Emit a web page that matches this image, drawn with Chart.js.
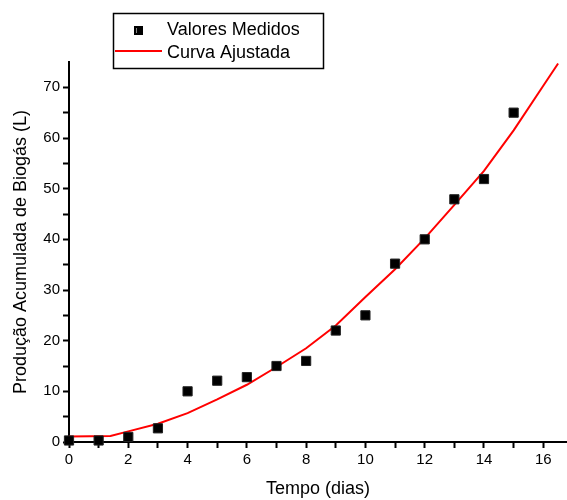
<!DOCTYPE html>
<html>
<head>
<meta charset="utf-8">
<script src="https://cdn.jsdelivr.net/npm/chart.js@4/dist/chart.umd.min.js"></script>
<style>
  html, body { margin: 0; padding: 0; background: #fff; overflow: hidden; }
  #wrap { position: relative; width: 567px; height: 500px; }
  canvas { display: block; }
</style>
</head>
<body>
<div id="wrap"><canvas id="c"></canvas></div>
<script>
// measured values (days -> litres)
var dias = [0, 1, 2, 3, 4, 5, 6, 7, 8, 9, 10, 11, 12, 13, 14, 15];
var medidos = [0.3, 0.3, 1.0, 2.7, 10.0, 12.1, 12.8, 15.0, 16.0, 22.0, 25.0, 35.2, 40.0, 47.9, 51.9, 65.0];

// fitted curve
var diasCurva = [0, 1.4, 2, 3, 4, 5, 6, 7, 8, 9, 10, 11, 12, 13, 14, 15, 16, 16.5];
var ajustada = [1.1, 1.2, 2.1, 3.6, 5.7, 8.4, 11.3, 14.8, 18.5, 23.0, 28.6, 34.1, 40.2, 46.8, 53.5, 61.5, 70.3, 74.7];

var xTicks = [0, 1, 2, 3, 4, 5, 6, 7, 8, 9, 10, 11, 12, 13, 14, 15, 16];
var yTicks = [0, 5, 10, 15, 20, 25, 30, 35, 40, 45, 50, 55, 60, 65, 70];

var fonte = 'Liberation Sans, Arial, sans-serif';

function pares(xs, ys) {
  return xs.map(function (x, i) { return { x: x, y: ys[i] }; });
}

// boxed legend like the original plot
var legendaCaixa = {
  id: 'legendaCaixa',
  afterDraw: function (chart) {
    var ctx = chart.ctx;
    var ds = chart.data.datasets;
    ctx.save();
    ctx.fillStyle = '#fff';
    ctx.fillRect(113, 13, 210, 55);
    ctx.strokeStyle = '#000';
    ctx.lineWidth = 1.5;
    ctx.strokeRect(113.5, 13.5, 210, 55);

    ctx.fillStyle = '#000';
    ctx.fillRect(134, 26, 9, 9);
    ctx.fillStyle = '#888';
    ctx.fillRect(136, 28, 1, 5);

    ctx.strokeStyle = 'red';
    ctx.lineWidth = 2;
    ctx.beginPath();
    ctx.moveTo(115, 51);
    ctx.lineTo(162, 51);
    ctx.stroke();

    ctx.fillStyle = '#000';
    ctx.font = '18px ' + fonte;
    ctx.textBaseline = 'middle';
    ctx.fillText(ds[0].label, 167, 30);
    ctx.fillText(ds[1].label, 167, 53);
    ctx.restore();
  }
};

new Chart(document.getElementById('c'), {
  type: 'scatter',
  data: {
    datasets: [
      {
        label: 'Valores Medidos',
        data: pares(dias, medidos),
        pointStyle: 'rect',
        pointRadius: 6.5,
        backgroundColor: '#000',
        borderColor: '#222',
        borderWidth: 1,
        clip: false,
        order: 0
      },
      {
        label: 'Curva Ajustada',
        data: pares(diasCurva, ajustada),
        showLine: true,
        borderColor: '#ff0000',
        borderWidth: 2,
        pointRadius: 0,
        tension: 0,
        order: 1
      }
    ]
  },
  options: {
    responsive: true,
    maintainAspectRatio: false,
    animation: false,
    layout: { autoPadding: false, padding: { top: 62, right: 0, left: 0, bottom: 0 } },
    plugins: {
      legend: { display: false },
      tooltip: { enabled: false }
    },
    scales: {
      x: {
        type: 'linear',
        min: 0,
        max: 16.8,
        afterBuildTicks: function (s) { s.ticks = xTicks.map(function (v) { return { value: v }; }); },
        afterFit: function (s) { s.height = 58; s.paddingLeft = 0; s.paddingRight = 0; },
        ticks: {
          color: '#000',
          font: { family: fonte, size: 15 },
          padding: 3,
          maxRotation: 0,
          callback: function (v) { return v % 2 === 0 ? v : ''; }
        },
        grid: { drawOnChartArea: false, drawTicks: true, tickLength: 6, tickColor: '#000', tickWidth: 2 },
        border: { color: '#000', width: 2 },
        title: {
          display: true,
          text: 'Tempo (dias)',
          color: '#000',
          font: { family: fonte, size: 18 },
          padding: { top: 0, bottom: 0 }
        }
      },
      y: {
        min: 0,
        max: 75,
        afterBuildTicks: function (s) { s.ticks = yTicks.map(function (v) { return { value: v }; }); },
        afterFit: function (s) { s.width = 69; s.paddingTop = 0; s.paddingBottom = 0; },
        ticks: {
          color: '#000',
          font: { family: fonte, size: 15 },
          padding: 3,
          callback: function (v) { return v % 10 === 0 ? v : ''; }
        },
        grid: { drawOnChartArea: false, drawTicks: true, tickLength: 6, tickColor: '#000', tickWidth: 2 },
        border: { color: '#000', width: 2 },
        title: {
          display: true,
          text: 'Produção Acumulada de Biogás (L)',
          color: '#000',
          font: { family: fonte, size: 18 },
          padding: { top: 10, bottom: 0 }
        }
      }
    }
  },
  plugins: [legendaCaixa]
});
</script>
</body>
</html>
